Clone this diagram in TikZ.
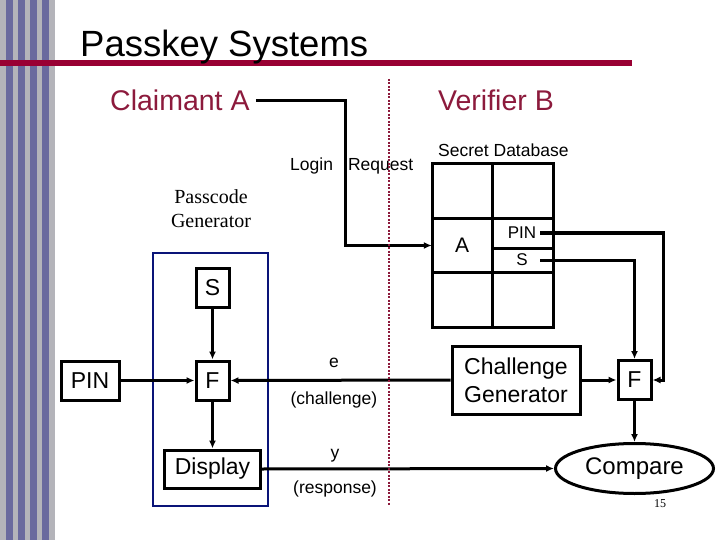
\documentclass[tikz,border=0pt]{standalone}
\usepackage{fontspec}
\setmainfont{Liberation Sans}
\newfontfamily\serifface{Liberation Serif}
\usetikzlibrary{arrows.meta,positioning,shapes.geometric}
\definecolor{slidered}{HTML}{990033}
\definecolor{partyred}{HTML}{8C1A3C}
\definecolor{stripeblue}{HTML}{6A6A9E}
\definecolor{stripegray}{HTML}{B4B4BA}
\definecolor{boxblue}{HTML}{0A1478}
\tikzset{
    plain-box/.style = {draw, line width=3pt, rectangle, inner sep=2pt, font=\fontsize{23}{28}\selectfont},
    letter-box/.style = {plain-box, minimum width=33pt, minimum height=39pt},
    link/.style = {line width=3pt},
    flow/.style = {link, -{Latex[length=8pt,width=7pt]}},
    small-label/.style = {inner sep=1pt, font=\fontsize{17.5}{21}\selectfont},
    db-text/.style = {inner sep=0pt, minimum width=36pt, font=\fontsize{17}{19}\selectfont},
    party/.style = {text=partyred, inner xsep=6pt, inner ysep=0pt, font=\fontsize{28.5}{34}\selectfont},
    divider/.style = {partyred, line width=2pt, dash pattern=on 2pt off 1.5pt},
}

\begin{document}
\begin{tikzpicture}[x=1pt,y=-1pt]
\useasboundingbox (0,0) rectangle (720,540);
\fill[stripegray] (0,0) rectangle (55,540);
\foreach \sx in {6,18,30,42}
    \fill[stripeblue] (\sx,0) rectangle ++(7,540);
\fill[slidered] (0,60) rectangle (632,66);
\node[anchor=base west, inner sep=0pt, font=\fontsize{36.5}{40}\selectfont] (title) at (80,57) {Passkey Systems};

\node[party, anchor=base west] (claimant) at (104,111) {Claimant A};
\node[party, anchor=base west] (verifier) at (432,111) {Verifier B};

% claimant side
\node[align=center, inner sep=0pt, font=\serifface\fontsize{20}{24}\selectfont] (passgen) at (211,209) {Passcode\\Generator};
\draw[boxblue, line width=2pt] (153,253) rectangle (268,506);
\node[letter-box] (sL) at (212.5,287.5) {S};
\node[letter-box, below=51pt of sL] (fL) {F};
\node[plain-box, minimum width=58pt, minimum height=39pt, left=74pt of fL] (pinL) {PIN};
\node[plain-box, minimum width=96pt, minimum height=38pt, below=47pt of fL] (display) {Display};

% verifier side
\node[small-label, anchor=base west] (secret) at (437,157) {Secret Database};
\draw[link] (432,164) rectangle (553,327)
    (492,164) -- (492,327)
    (432,219) -- (553,219)
    (432,272) -- (553,272)
    (492,248) -- (553,248);
\node[inner sep=0pt, minimum width=60pt, minimum height=53pt, font=\fontsize{21}{24}\selectfont] (dbA) at (462,245.5) {A};
\node[db-text] (dbPIN) at (522,233) {PIN};
\node[db-text] (dbS) at (522,260) {S};
\node[letter-box] (fR) at (634.5,380) {F};
\node[plain-box, align=center, minimum width=128pt, minimum height=68pt, left=35pt of fR] (cgen) {Challenge\\Generator};
\node[ellipse, draw, line width=3pt, inner sep=0pt, minimum width=158pt, minimum height=50pt, font=\fontsize{24}{28}\selectfont, below=41pt of fR] (compare) {Compare};

\coordinate (loginbend) at (345,170);
\coordinate (pinturn) at (663,233);
\node[small-label, anchor=base west] (login) at (289,171) {Login\hspace{15pt}Request};
\draw[flow] (claimant.east) -| (loginbend) |- (dbA.west);
\draw[flow] (sL) -- (fL);
\draw[flow] (pinL) -- (fL);
\draw[flow] (fL) -- (display);
\draw[flow] (cgen.west) -- node[small-label, pos=0.53, above=10pt] {e} node[small-label, pos=0.53, below=9pt] {(challenge)} (fL.east);
\draw[flow] (display.east) -- node[small-label, pos=0.25, above=4pt] {y} node[small-label, pos=0.25, below=9pt] {(response)} (compare.west);
\draw[flow] (cgen) -- (fR);
\draw[flow] (dbS.east) -| (fR.north);
\draw[flow] (dbPIN.east) -- (pinturn) |- (fR.east);
\draw[flow] (fR) -- (compare);
\draw[divider] (389,79) -- (389,505);
\node[inner sep=0pt, font=\serifface\fontsize{12}{14}\selectfont] (pagenum) at (660,504) {15};
\end{tikzpicture}
\end{document}
